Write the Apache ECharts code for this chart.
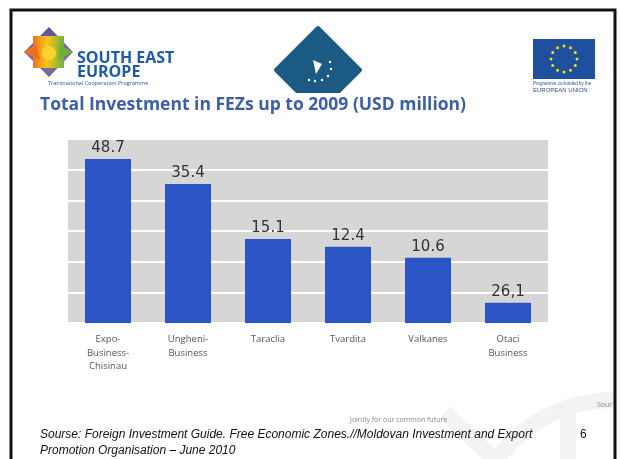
<!DOCTYPE html>
<html><head><meta charset="utf-8">
<script src="https://cdn.jsdelivr.net/npm/echarts@6/dist/echarts.min.js"></script>
<style>html,body{margin:0;padding:0;background:#fff}#c{width:620px;height:459px}</style>
</head><body><div id="c"></div>
<script>
// ---- data ----
const categories = ['Expo-\nBusiness-\nChisinau', 'Ungheni-\nBusiness', 'Taraclia', 'Tvardita', 'Valkanes', 'Otaci\nBusiness'];
const valueLabels = ['48.7', '35.4', '15.1', '12.4', '10.6', '26,1'];
// bar heights as drawn in the picture, read against the gridlines (0-60 scale)
const barHeights = [53.5, 45.3, 27.4, 24.9, 21.3, 6.6];
const yTicks = [0, 10, 20, 30, 40, 50, 60];

const chart = echarts.init(document.getElementById('c'), null, {renderer: 'canvas'});

// EU stars
const stars = [];
for (let i = 0; i < 12; i++) {
  const a = i * Math.PI / 6;
  stars.push({type: 'circle', shape: {cx: 564 + 13 * Math.sin(a), cy: 59 - 13 * Math.cos(a), r: 1.5}, style: {fill: '#f5e000'}, z: 12});
}
// dots in middle logo
const dots = [];
const dotPts = [[330,62],[331,69],[328,76],[322,80],[315,81],[309,80]];
dotPts.forEach(p => dots.push({type: 'circle', shape: {cx: p[0], cy: p[1], r: 1.2}, style: {fill: '#fff'}, z: 12}));

const F = '"Liberation Sans", Arial, sans-serif';
const G = '"Open Sans", "Noto Sans", sans-serif';

chart.setOption({
  animation: false,
  grid: {left: 68, top: 139, width: 480, height: 184, show: true, backgroundColor: '#d6d6d6', borderWidth: 0},
  xAxis: {
    type: 'category', data: categories,
    axisLine: {show: false}, axisTick: {show: false},
    axisLabel: {interval: 0, margin: 10, fontFamily: G, fontSize: 9.5, lineHeight: 13.5, color: '#555'}
  },
  yAxis: {
    type: 'value', min: yTicks[0], max: yTicks[yTicks.length - 1], interval: 10,
    axisLabel: {show: false}, axisLine: {show: false}, axisTick: {show: false},
    splitLine: {lineStyle: {color: '#ffffff', width: 2}}
  },
  series: [{
    type: 'bar', data: barHeights, barWidth: 46,
    itemStyle: {color: '#2c56c6'},
    label: {show: true, position: 'top', distance: 3, fontFamily: '"DejaVu Sans", sans-serif', fontSize: 15, color: '#333',
      formatter: p => valueLabels[p.dataIndex]}
  }],
  graphic: [
    // slide frame
    {type: 'polyline', shape: {points: [[11, 470], [11, 10], [615, 10], [615, 470]]}, style: {stroke: '#111', lineWidth: 3, fill: null}, z: 20},
    // faint background arrow shapes
    {type: 'polyline', shape: {points: [[445, 412], [505, 470]]}, style: {stroke: '#f3f3f3', lineWidth: 16, fill: null}, z: -1},
    {type: 'bezierCurve', shape: {x1: 490, y1: 470, x2: 615, y2: 400, cpx1: 520, cpy1: 420, cpx2: 570, cpy2: 400}, style: {stroke: '#f3f3f3', lineWidth: 16, fill: null}, z: -1},
    {type: 'polyline', shape: {points: [[568, 470], [568, 412]]}, style: {stroke: '#f3f3f3', lineWidth: 16, fill: null}, z: -1},
    // SEE logo
    {type: 'polygon', shape: {points: [[24, 52], [49, 27], [73, 52], [49, 77]]},
      style: {fill: new echarts.graphic.LinearGradient(0, 0, 0, 1, [{offset: 0, color: '#5a4f9a'}, {offset: 0.5, color: '#8a6aa8'}, {offset: 1, color: '#6e6a9a'}])}, z: 10},
    {type: 'rect', shape: {x: 33, y: 36, width: 31, height: 32},
      style: {fill: new echarts.graphic.LinearGradient(0, 0, 1, 0, [{offset: 0, color: '#f07418'}, {offset: 0.45, color: '#f7c51c'}, {offset: 1, color: '#6fb23a'}])}, z: 11},
    {type: 'polygon', shape: {points: [[24, 52], [36, 44], [40, 60]]}, style: {fill: '#ef6f1a'}, z: 11},
    {type: 'polygon', shape: {points: [[73, 52], [60, 45], [58, 60]]}, style: {fill: '#6cb03a'}, z: 11},
    {type: 'circle', shape: {cx: 49, cy: 53, r: 7}, style: {fill: '#f9d32a'}, z: 12},
    {type: 'text', x: 77, y: 50, style: {text: 'SOUTH EAST', font: 'bold 16px ' + G, fill: '#1c5cb0'}, z: 12},
    {type: 'text', x: 77, y: 64, style: {text: 'EUROPE', font: 'bold 16px ' + G, fill: '#1c5cb0'}, z: 12},
    {type: 'text', x: 48, y: 80, style: {text: 'Transnational Cooperation Programme', font: '5.5px ' + G, fill: '#1c5cb0'}, z: 12},
    // middle logo
    {type: 'polygon', shape: {points: [[318, 28], [360, 70], [318, 112], [276, 70]], smooth: 0},
      style: {fill: '#1b5a82', stroke: '#1b5a82', lineWidth: 4, lineJoin: 'round'}, z: 10},
    {type: 'polygon', shape: {points: [[313, 60], [322, 64], [316, 74]]}, style: {fill: '#fff'}, z: 12},
    ...dots,
    {type: 'rect', shape: {x: 20, y: 93, width: 560, height: 24}, style: {fill: '#fff'}, z: 11},
    // EU flag
    {type: 'rect', shape: {x: 533, y: 39, width: 62, height: 40}, style: {fill: '#1f4f9f'}, z: 10},
    ...stars,
    {type: 'text', x: 533, y: 81, style: {text: 'Programme co-funded by the', font: '4.5px ' + F, fill: '#1f4f9f'}, z: 12},
    {type: 'text', x: 533, y: 87, style: {text: 'EUROPEAN UNION', font: '6px ' + F, fill: '#1f4f9f'}, z: 12},
    // title
    {type: 'text', x: 40, y: 96, style: {text: 'Total Investment in FEZs up to 2009 (USD million)', font: 'bold 17.5px ' + G, fill: '#3d5ea8'}, z: 13},
    // footer
    {type: 'text', x: 350, y: 416, style: {text: 'Jointly for our common future', font: '7px ' + G, fill: '#8a8a8a'}, z: 12},
    {type: 'text', x: 597, y: 401, style: {text: 'Sour', font: '7px ' + G, fill: '#8a8a8a'}, z: 12},
    {type: 'text', x: 40, y: 429, style: {text: 'Sourse: Foreign Investment Guide. Free Economic Zones.//Moldovan Investment and Export', font: 'italic 12px ' + F, fill: '#111'}, z: 12},
    {type: 'text', x: 40, y: 445, style: {text: 'Promotion Organisation \u2013 June 2010', font: 'italic 12px ' + F, fill: '#111'}, z: 12},
    {type: 'text', x: 580, y: 429, style: {text: '6', font: '12px ' + F, fill: '#111'}, z: 12}
  ]
});
</script>
</body></html>
